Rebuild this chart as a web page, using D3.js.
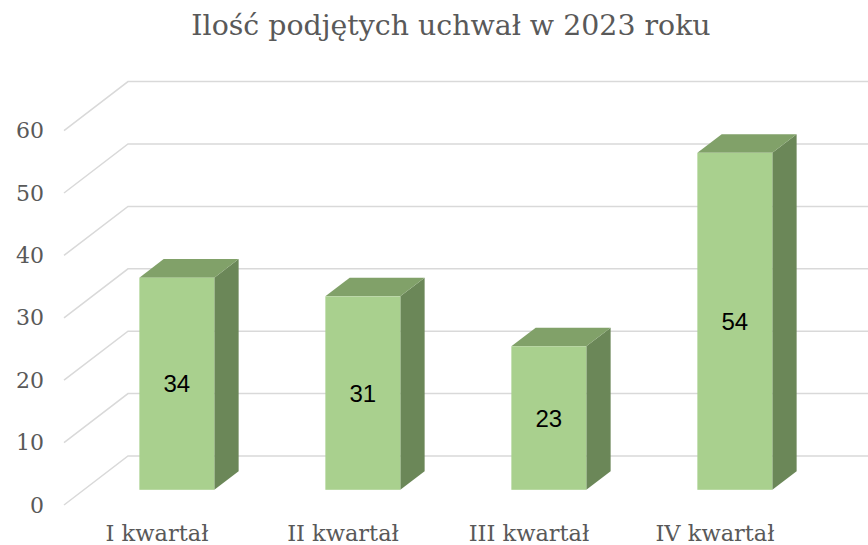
<!DOCTYPE html>
<html>
<head>
<meta charset="utf-8">
<script src="https://cdn.jsdelivr.net/npm/d3@7"></script>
<style>
  html, body { margin: 0; padding: 0; background: #fff; }
  svg { display: block; }
</style>
</head>
<body>
<div id="chart"></div>
<script>
// Chart data
const title = "Ilość podjętych uchwał w 2023 roku"
const categories = ["I kwartał", "II kwartał", "III kwartał", "IV kwartał"]
const values = [34, 31, 23, 54]
const yTicks = [0, 10, 20, 30, 40, 50, 60]

const W = 868, H = 545
const serif = "'DejaVu Serif', 'Liberation Serif', serif"

// Front floor plane
const x0 = 64, x1 = 808, yFloor = 505
const plotH = 374.4
// depth vector from front to back wall
const depth = { dx: 64, dy: -49 }
const barFront = 0.31, barBack = 0.69

const svg = d3.select("#chart")
  .append("svg")
  .attr("width", W)
  .attr("height", H)

const x = d3.scaleBand()
  .domain(categories)
  .range([x0, x1])
  .padding(0)

const y = d3.scaleLinear()
  .domain([0, 60])
  .range([yFloor, yFloor - plotH])

// Title
svg.append("text")
  .attr("x", 451)
  .attr("y", 35)
  .attr("text-anchor", "middle")
  .style("font-family", serif)
  .style("font-size", "28.4px")
  .style("fill", "#595959")
  .text(title)

// Gridlines: side wall diagonals + back wall horizontals
const grid = svg.append("g").attr("stroke", "#d9d9d9").attr("stroke-width", 1.5).attr("fill", "none")
yTicks.forEach(t => {
  grid.append("polyline")
    .attr("points", [
      [x0, y(t)],
      [x0 + depth.dx, y(t) + depth.dy],
      [W + 10, y(t) + depth.dy]
    ].map(p => p.join(",")).join(" "))
})

// Y axis labels
const yAxis = svg.append("g")
  .attr("transform", `translate(${x0 - 20},0)`)
  .call(d3.axisLeft(y).tickValues(yTicks).tickSize(0).tickPadding(0))
yAxis.select(".domain").remove()
yAxis.selectAll("text")
  .style("font-family", serif)
  .style("font-size", "22px")
  .style("fill", "#595959")

// X axis labels
const xAxis = svg.append("g")
  .attr("transform", `translate(0,${yFloor + 20})`)
  .call(d3.axisBottom(x).tickSize(0).tickPadding(0))
xAxis.select(".domain").remove()
xAxis.selectAll("text")
  .attr("dy", "0.71em")
  .style("font-family", serif)
  .style("font-size", "22.5px")
  .style("fill", "#595959")

// Bars
const barW = x.bandwidth() * 0.403
const fx = depth.dx * barFront, fy = depth.dy * barFront
const bx = depth.dx * (barBack - barFront), by = depth.dy * (barBack - barFront)

const bars = svg.selectAll(".bar")
  .data(categories.map((c, i) => ({ cat: c, value: values[i] })))
  .enter()
  .append("g")
  .attr("class", "bar")

bars.each(function(d) {
  const g = d3.select(this)
  const left = x(d.cat) + (x.bandwidth() - barW) / 2 + fx
  const right = left + barW
  const bottom = y(0) + fy
  const top = y(d.value) + fy
  const pts = a => a.map(p => p.join(",")).join(" ")

  // right side face
  g.append("polygon")
    .attr("points", pts([[right, top], [right + bx, top + by], [right + bx, bottom + by], [right, bottom]]))
    .attr("fill", "#6b8758")
  // top face
  g.append("polygon")
    .attr("points", pts([[left, top], [left + bx, top + by], [right + bx, top + by], [right, top]]))
    .attr("fill", "#81a169")
  // front face
  g.append("rect")
    .attr("x", left)
    .attr("y", top)
    .attr("width", barW)
    .attr("height", bottom - top)
    .attr("fill", "#a9d08e")

  // data label
  g.append("text")
    .attr("x", left + barW / 2)
    .attr("y", (top + bottom) / 2)
    .attr("dy", "0.36em")
    .attr("text-anchor", "middle")
    .style("font-family", "'Liberation Sans', Arial, sans-serif")
    .style("font-size", "24px")
    .style("fill", "#000")
    .text(d.value)
})
</script>
</body>
</html>
